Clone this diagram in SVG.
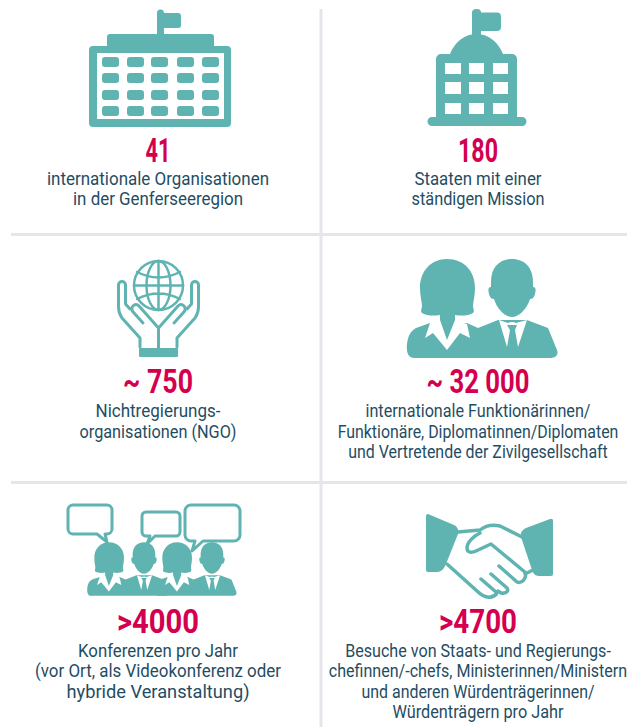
<svg xmlns="http://www.w3.org/2000/svg" width="636" height="727" viewBox="0 0 636 727">
<style>
.t{font-family:"Roboto","Liberation Sans",sans-serif;font-size:18px;fill:#1f4d63;text-anchor:middle}
.n{font-family:"Roboto","Liberation Sans",sans-serif;font-weight:700;font-size:34px;fill:#d4004f;text-anchor:middle}
.f{fill:#5fb4b2}
.s{fill:none;stroke:#5fb4b2;stroke-width:3;stroke-linejoin:round;stroke-linecap:round}
.g{stroke:#e6e5ec;stroke-width:3;fill:none}
.w{fill:#fff}
</style>
<defs>
<g id="pair">
<path class="f" d="M447 259C464 259 475 271 475 288C475 296 473 302 473 306C473 309 475 311 473 313C468 316 461 316 455 315V322L447 340L440 322V315C434 316 427 316 422 313C420 311 422 309 422 306C422 302 420 296 420 288C420 271 431 259 447 259Z"/>
<path class="f" d="M512 259C525 259 533 268 533 282V287C536 287 536 290 535 294C534 298 532 299 530 299C527 309 519 317 512 317C505 317 497 309 494 299C492 299 490 298 489 294C488 290 488 287 491 287V282C491 268 499 259 512 259Z"/>
<path class="f" d="M407 344C408 335 411 331 416 328L430 323H467L478 328L498 320H527L548 328L557 350C559 355 555 358 551 358H414C409 358 406 354 407 344Z"/>
<path class="w" d="M430 323L440 320L447 340L455 320L467 324L470 338L460 333L447 350L433 333L425 338Z"/>
<path class="w" d="M499 320L507 347L510 330L507 325H517L515 330L518 347L527 320L516 323Q512 321 508 323Z"/>
</g>
</defs>
<g id="grid" class="g"><path d="M321 9V727M11 234.500H627M11 482.500H627"/></g>
<g id="n1">
<path class="f" d="M157 13a3.500 3.500 0 0 1 7 0h14a3 3 0 0 1 3 3v9a3 3 0 0 1-3 3h-14v6h47a3 3 0 0 1 3 3v9h13a4 4 0 0 1 4 4v73a4 4 0 0 1-4 4H93a4 4 0 0 1-4-4V50a4 4 0 0 1 4-4h14V37a3 3 0 0 1 3-3h47z"/>
<rect class="w" x="97" y="53" width="127" height="66"/>
<g class="f">
<rect x="102" y="57" width="17" height="10" rx="3"/><rect x="127" y="57" width="17" height="10" rx="3"/><rect x="151" y="57" width="17" height="10" rx="3"/><rect x="177" y="57" width="17" height="10" rx="3"/><rect x="202" y="57" width="17" height="10" rx="3"/>
<rect x="102" y="73" width="17" height="10" rx="3"/><rect x="127" y="73" width="17" height="10" rx="3"/><rect x="151" y="73" width="17" height="10" rx="3"/><rect x="177" y="73" width="17" height="10" rx="3"/><rect x="202" y="73" width="17" height="10" rx="3"/>
<rect x="102" y="90" width="17" height="10" rx="3"/><rect x="127" y="90" width="17" height="10" rx="3"/><rect x="151" y="90" width="17" height="10" rx="3"/><rect x="177" y="90" width="17" height="10" rx="3"/><rect x="202" y="90" width="17" height="10" rx="3"/>
<rect x="102" y="106" width="17" height="10" rx="3"/><rect x="127" y="106" width="17" height="10" rx="3"/><rect x="151" y="106" width="17" height="10" rx="3"/><rect x="177" y="106" width="17" height="10" rx="3"/><rect x="202" y="106" width="17" height="10" rx="3"/>
</g>
<text class="n" x="158" y="162" textLength="25" lengthAdjust="spacingAndGlyphs">41</text>
<text class="t" x="158" y="185" textLength="222" lengthAdjust="spacingAndGlyphs">internationale Organisationen</text>
<text class="t" x="158" y="205" textLength="170" lengthAdjust="spacingAndGlyphs">in der Genferseeregion</text>
</g>
<g id="n2">
<path class="f" d="M472 12.500a4.500 3.500 0 0 1 9 0H497a4 4 0 0 1 4 4V27a4 4 0 0 1-4 4H481v3.500C491 36 499 44 503 54H512a5 5 0 0 1 5 5V117H522a4.500 4.500 0 0 1 0 9H432a4.500 4.500 0 0 1 0-9H436V59a5 5 0 0 1 5-5H450C454 44 462 36 472 34.500Z"/>
<g class="w">
<rect x="445" y="63" width="16" height="11"/><rect x="469" y="63" width="15" height="11"/><rect x="493" y="63" width="15" height="11"/>
<rect x="445" y="82" width="16" height="12"/><rect x="469" y="82" width="15" height="12"/><rect x="493" y="82" width="15" height="12"/>
<rect x="445" y="103" width="16" height="11"/><rect x="469" y="103" width="15" height="11"/><rect x="493" y="103" width="15" height="11"/>
</g>
<text class="n" x="478" y="162" textLength="40" lengthAdjust="spacingAndGlyphs">180</text>
<text class="t" x="478" y="185" textLength="127" lengthAdjust="spacingAndGlyphs">Staaten mit einer</text>
<text class="t" x="478" y="205" textLength="133" lengthAdjust="spacingAndGlyphs">ständigen Mission</text>
</g>
<g id="n3">
<g class="s">
<g style="stroke-width:2.500">
<circle cx="158.500" cy="285.500" r="24.500"/><ellipse cx="158.500" cy="285.500" rx="12" ry="24.500"/><path d="M158.500 261V310M134 285.500H183M137 272Q158.500 283 180 272M137 299Q158.500 288 180 299"/>
</g>
<path d="M140 347V338L122 318Q118.500 313 118.500 307V285A3.500 3.500 0 0 1 125.500 285V304L130 309M143 323L134 313Q130 309 133 306Q136 303 139 306L158.500 328V348"/>
<path d="M177 347V338L195 318Q198.500 313 198.500 307V285A3.500 3.500 0 0 0 191.500 285V304L187 309M174 323L183 313Q187 309 184 306Q181 303 178 306L158.500 328"/>
</g>
<rect class="f" x="139" y="348" width="39" height="9" rx="1"/>
<text class="n" x="158" y="393" textLength="70" lengthAdjust="spacingAndGlyphs">~ 750</text>
<text class="t" x="158" y="417" textLength="125" lengthAdjust="spacingAndGlyphs">Nichtregierungs-</text>
<text class="t" x="158" y="438" textLength="157" lengthAdjust="spacingAndGlyphs">organisationen (NGO)</text>
</g>
<g id="n4">
<use href="#pair"/>
<text class="n" x="478" y="393" textLength="103" lengthAdjust="spacingAndGlyphs">~ 32 000</text>
<text class="t" x="478" y="417" textLength="225" lengthAdjust="spacingAndGlyphs">internationale Funktionärinnen/</text>
<text class="t" transform="translate(478 438) scale(.88 1)" textLength="319" lengthAdjust="spacingAndGlyphs">Funktionäre, Diplomatinnen/Diplomaten</text>
<text class="t" transform="translate(478 458) scale(.88 1)" textLength="295" lengthAdjust="spacingAndGlyphs">und Vertretende der Zivilgesellschaft</text>
</g>
<g id="n5">
<g class="s">
<path d="M73 505H107a5 5 0 0 1 5 5V529a5 5 0 0 1-5 5H105L107 542L97 534H73a5 5 0 0 1-5-5V510a5 5 0 0 1 5-5Z"/>
<path d="M146 512H176a4 4 0 0 1 4 4V532a4 4 0 0 1-4 4H155L147 544L150 536H146a4 4 0 0 1-4-4V516a4 4 0 0 1 4-4Z"/>
<path d="M191 505H234a6 6 0 0 1 6 6V535a6 6 0 0 1-6 6H203L192 551L195 541H191a6 6 0 0 1-6-6V511a6 6 0 0 1 6-6Z"/>
</g>
<use href="#pair" transform="translate(-132.500 402.500) scale(.54)"/>
<use href="#pair" transform="translate(-64.500 402.500) scale(.54)"/>
<text class="n" x="158" y="633" textLength="82" lengthAdjust="spacingAndGlyphs">&gt;4000</text>
<text class="t" x="158" y="657" textLength="160" lengthAdjust="spacingAndGlyphs">Konferenzen pro Jahr</text>
<text class="t" x="158" y="677" textLength="246" lengthAdjust="spacingAndGlyphs">(vor Ort, als Videokonferenz oder</text>
<text class="t" x="158" y="698" textLength="183" lengthAdjust="spacingAndGlyphs">hybride Veranstaltung)</text>
</g>
<g id="n6">
<path class="f" d="M428 514L454 525C458 527 459 531 458 534L446 564C444 569 441 572 437 572H428a2 2 0 0 1-2-2V516a2 2 0 0 1 2-2Z"/>
<path class="f" d="M553 521V574a2 2 0 0 1-2 2H539C535 576 533 573 532 570L521 537C520 533 522 530 526 528L550 519a2 2 0 0 1 3 2Z"/>
<g class="s" style="stroke-width:3.500">
<path d="M458 532L480 530C485 526 492 524 500 526L522 537"/>
<path d="M480 533C474 536 467 542 467 548C467 553 472 553 476 551L491 544L526 573"/>
<path d="M447 564L477 591C481 595 486 598 491 597C494 596 497 594 497 592"/>
<path d="M499 566L517 582C522 584 527 578 525 573M491 574L507 588C509 591 506 593 504 593C501 594 500 592 498 591M481 579L496 592C497 594 496 596 491 597"/>
<path d="M527 573L533 570"/>
</g>
<text class="n" x="478" y="633" textLength="78" lengthAdjust="spacingAndGlyphs">&gt;4700</text>
<text class="t" transform="translate(478 657) scale(.88 1)" textLength="302" lengthAdjust="spacingAndGlyphs">Besuche von Staats- und Regierungs-</text>
<text class="t" transform="translate(478 677) scale(.88 1)" textLength="339" lengthAdjust="spacingAndGlyphs">chefinnen/-chefs, Ministerinnen/Ministern</text>
<text class="t" x="478" y="698" textLength="233" lengthAdjust="spacingAndGlyphs">und anderen Würdenträgerinnen/</text>
<text class="t" x="478" y="718" textLength="171" lengthAdjust="spacingAndGlyphs">Würdenträgern pro Jahr</text>
</g>
</svg>
